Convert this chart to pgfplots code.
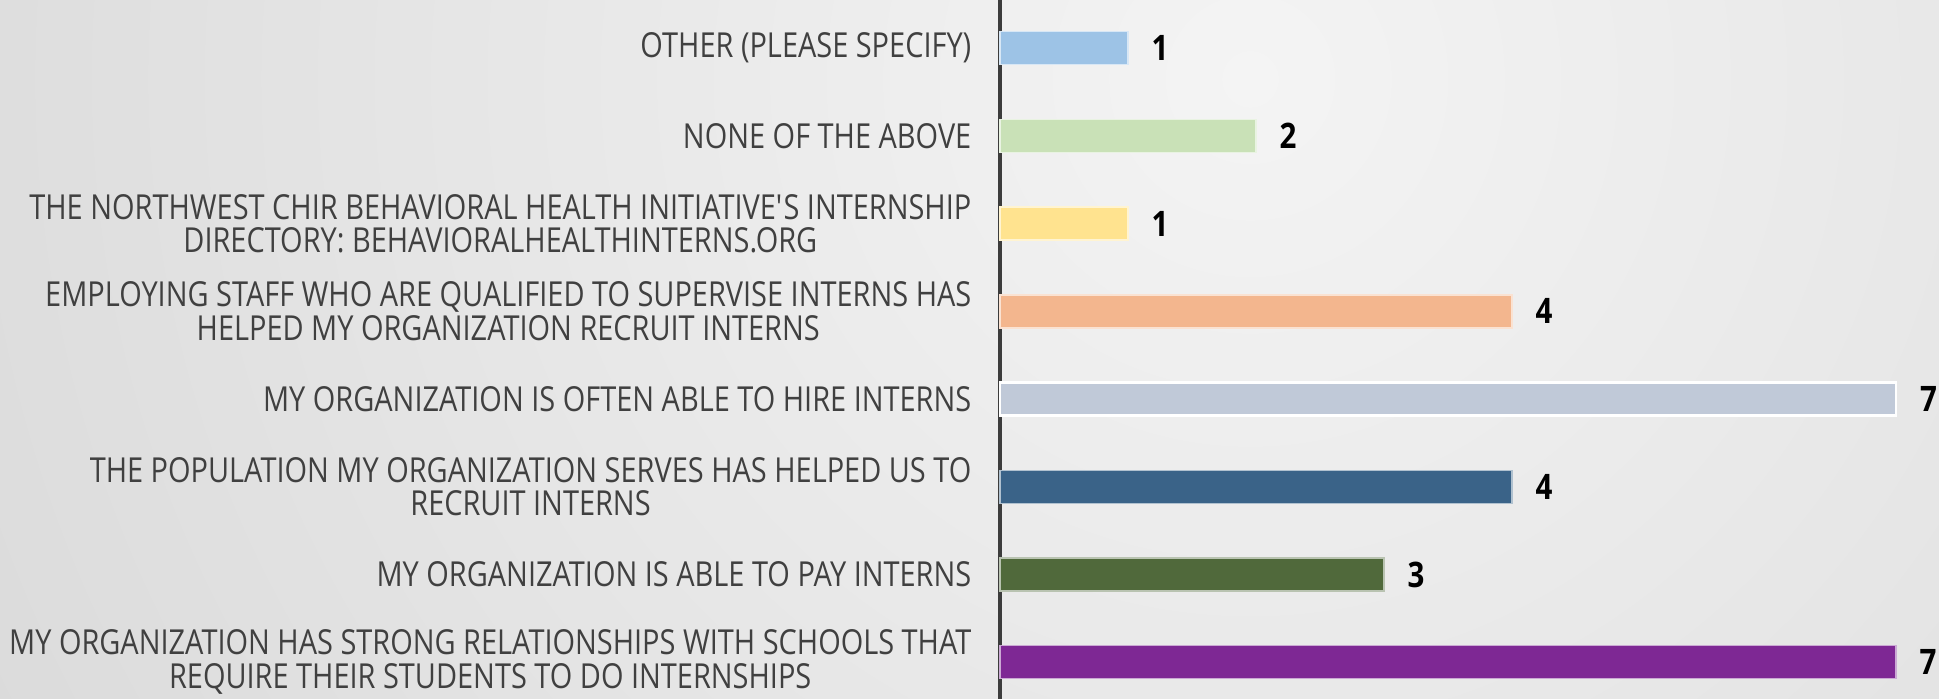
\documentclass[border=0pt]{standalone}
\usepackage{pgfplots}
\pgfplotsset{compat=1.18}
\usepackage{fontspec}
\setmainfont{Open Sans}[FakeStretch=0.84]
\definecolor{txt}{HTML}{404040}
\definecolor{axisgray}{HTML}{3C3C3C}
\definecolor{bgin}{HTML}{F4F4F4}
\definecolor{bgout}{HTML}{C6C6C6}
\definecolor{c1}{HTML}{9DC3E6}
\definecolor{c2}{HTML}{C9E1B7}
\definecolor{c3}{HTML}{FFE38F}
\definecolor{c4}{HTML}{F3B68E}
\definecolor{c5}{HTML}{C0C9D8}
\definecolor{c6}{HTML}{3A6388}
\definecolor{c7}{HTML}{50693B}
\definecolor{c8}{HTML}{7E2894}
\begin{document}
\begin{tikzpicture}
\useasboundingbox (0,0) rectangle (19.39cm,6.99cm);
\begin{scope}
\clip (0,0) rectangle (19.39cm,6.99cm);
\shade[inner color=bgin, outer color=bgout] (12.5cm,6.2cm) circle (26cm);
\end{scope}
\begin{axis}[
  at={(10cm,0cm)}, anchor=south west,
  scale only axis, width=9.39cm, height=6.99cm,
  xmin=0, xmax=7.336, ymin=0.58, ymax=8.55,
  xbar, bar width=0.33cm, bar shift=0pt,
  axis x line=none,
  axis y line*=left,
  y axis line style={draw=axisgray, line width=0.9pt},
  ytick={1,2,3,4,5,6,7,8},
  major tick length=0pt,
  /pgf/number format/assume math mode=true,
  yticklabels={
    {MY ORGANIZATION HAS STRONG RELATIONSHIPS WITH SCHOOLS THAT\\REQUIRE THEIR STUDENTS TO DO INTERNSHIPS},
    {MY ORGANIZATION IS ABLE TO PAY INTERNS},
    {THE POPULATION MY ORGANIZATION SERVES HAS HELPED US TO\\RECRUIT INTERNS},
    {MY ORGANIZATION IS OFTEN ABLE TO HIRE INTERNS},
    {EMPLOYING STAFF WHO ARE QUALIFIED TO SUPERVISE INTERNS HAS\\HELPED MY ORGANIZATION RECRUIT INTERNS},
    {THE NORTHWEST CHIR BEHAVIORAL HEALTH INITIATIVE\textquotesingle S INTERNSHIP\\DIRECTORY: BEHAVIORALHEALTHINTERNS.ORG},
    {NONE OF THE ABOVE},
    {OTHER (PLEASE SPECIFY)}},
  yticklabel style={align=center, text=txt, inner sep=0pt, xshift=-0.28cm,
    font=\fontsize{9.8}{9.6}\selectfont},
  nodes near coords,
  nodes near coords style={anchor=west, inner sep=0pt, xshift=0.23cm,
    font=\fontsize{10}{10}\selectfont\bfseries, text=black},
  clip=false,
]
\addplot[fill=c8, draw=c8!40!white, line width=0.4pt] coordinates {(7,1)};
\addplot[fill=c7, draw=c7!40!white, line width=0.4pt] coordinates {(3,2)};
\addplot[fill=c6, draw=c6!40!white, line width=0.4pt] coordinates {(4,3)};
\addplot[fill=c5, draw=white, line width=0.6pt] coordinates {(7,4)};
\addplot[fill=c4, draw=c4!40!white, line width=0.4pt] coordinates {(4,5)};
\addplot[fill=c3, draw=c3!40!white, line width=0.4pt] coordinates {(1,6)};
\addplot[fill=c2, draw=c2!40!white, line width=0.4pt] coordinates {(2,7)};
\addplot[fill=c1, draw=c1!40!white, line width=0.4pt] coordinates {(1,8)};
\end{axis}
\end{tikzpicture}
\end{document}
